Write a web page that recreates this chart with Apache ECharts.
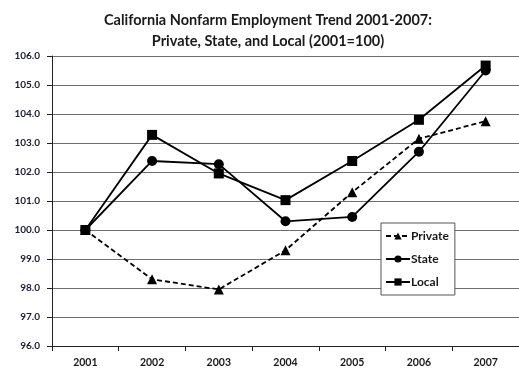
<!DOCTYPE html>
<html>
<head>
<meta charset="utf-8">
<script src="https://cdn.jsdelivr.net/npm/echarts@6/dist/echarts.min.js"></script>
<style>
  html, body { margin: 0; padding: 0; background: #fff; }
  #chart { width: 519px; height: 372px; }
</style>
</head>
<body>
<div id="chart"></div>
<script>
// Employment index by sector, 2001 = 100
const years = ['2001', '2002', '2003', '2004', '2005', '2006', '2007'];
const privateIdx = [100.0, 98.3, 97.95, 99.3, 101.3, 103.15, 103.75];
const stateIdx   = [100.0, 102.38, 102.27, 100.3, 100.45, 102.7, 105.5];
const localIdx   = [100.0, 103.28, 101.95, 101.03, 102.38, 103.8, 105.67];

const FONT = 'Lato, "Open Sans", sans-serif';
const chart = echarts.init(document.getElementById('chart'));

chart.setOption({
  backgroundColor: '#ffffff',
  animation: false,
  title: {
    text: 'California Nonfarm Employment Trend 2001-2007:\nPrivate, State, and Local (2001=100)',
    left: 263,
    textAlign: 'center',
    top: 5,
    textStyle: { fontFamily: FONT, fontWeight: 'bold', fontSize: 14.5, color: '#1a1a1a', lineHeight: 21 }
  },
  legend: {
    orient: 'vertical',
    left: 381,
    top: 223,
    width: 76,
    padding: [7, 6, 7, 4],
    itemGap: 11,
    itemWidth: 24,
    itemHeight: 9,
    backgroundColor: '#ffffff',
    borderColor: '#555',
    borderWidth: 1,
    textStyle: { fontFamily: FONT, fontWeight: 'bold', fontSize: 12, color: '#1a1a1a', padding: [0, 0, 0, -4] },
    data: ['Private', 'State', 'Local']
  },
  grid: { left: 52, top: 56, width: 470, height: 290 },
  xAxis: {
    type: 'category',
    data: years,
    boundaryGap: true,
    axisLine: { lineStyle: { color: '#222', width: 1 } },
    axisTick: { show: true, length: 5, lineStyle: { color: '#222' } },
    axisLabel: { fontFamily: FONT, fontWeight: 'bold', fontSize: 10.5, color: '#1a1a1a', margin: 11 }
  },
  yAxis: {
    type: 'value',
    min: 96,
    max: 106,
    interval: 1,
    axisLine: { show: true, lineStyle: { color: '#222', width: 1 } },
    axisTick: { show: true, length: 5, lineStyle: { color: '#222' } },
    axisLabel: {
      fontFamily: FONT, fontWeight: 'bold', fontSize: 10, color: '#1a1a33', margin: 12,
      formatter: v => v.toFixed(1)
    },
    splitLine: { show: true, lineStyle: { color: '#6e6e6e', width: 1 } }
  },
  series: [
    {
      name: 'Private', type: 'line', data: privateIdx,
      symbol: 'triangle', symbolSize: 10,
      lineStyle: { color: '#000', width: 1.8, type: [5, 3] },
      itemStyle: { color: '#000' }
    },
    {
      name: 'State', type: 'line', data: stateIdx,
      symbol: 'circle', symbolSize: 10,
      lineStyle: { color: '#000', width: 1.8 },
      itemStyle: { color: '#000' }
    },
    {
      name: 'Local', type: 'line', data: localIdx,
      symbol: 'rect', symbolSize: 10,
      lineStyle: { color: '#000', width: 1.8 },
      itemStyle: { color: '#000' }
    }
  ]
});
</script>
</body>
</html>
